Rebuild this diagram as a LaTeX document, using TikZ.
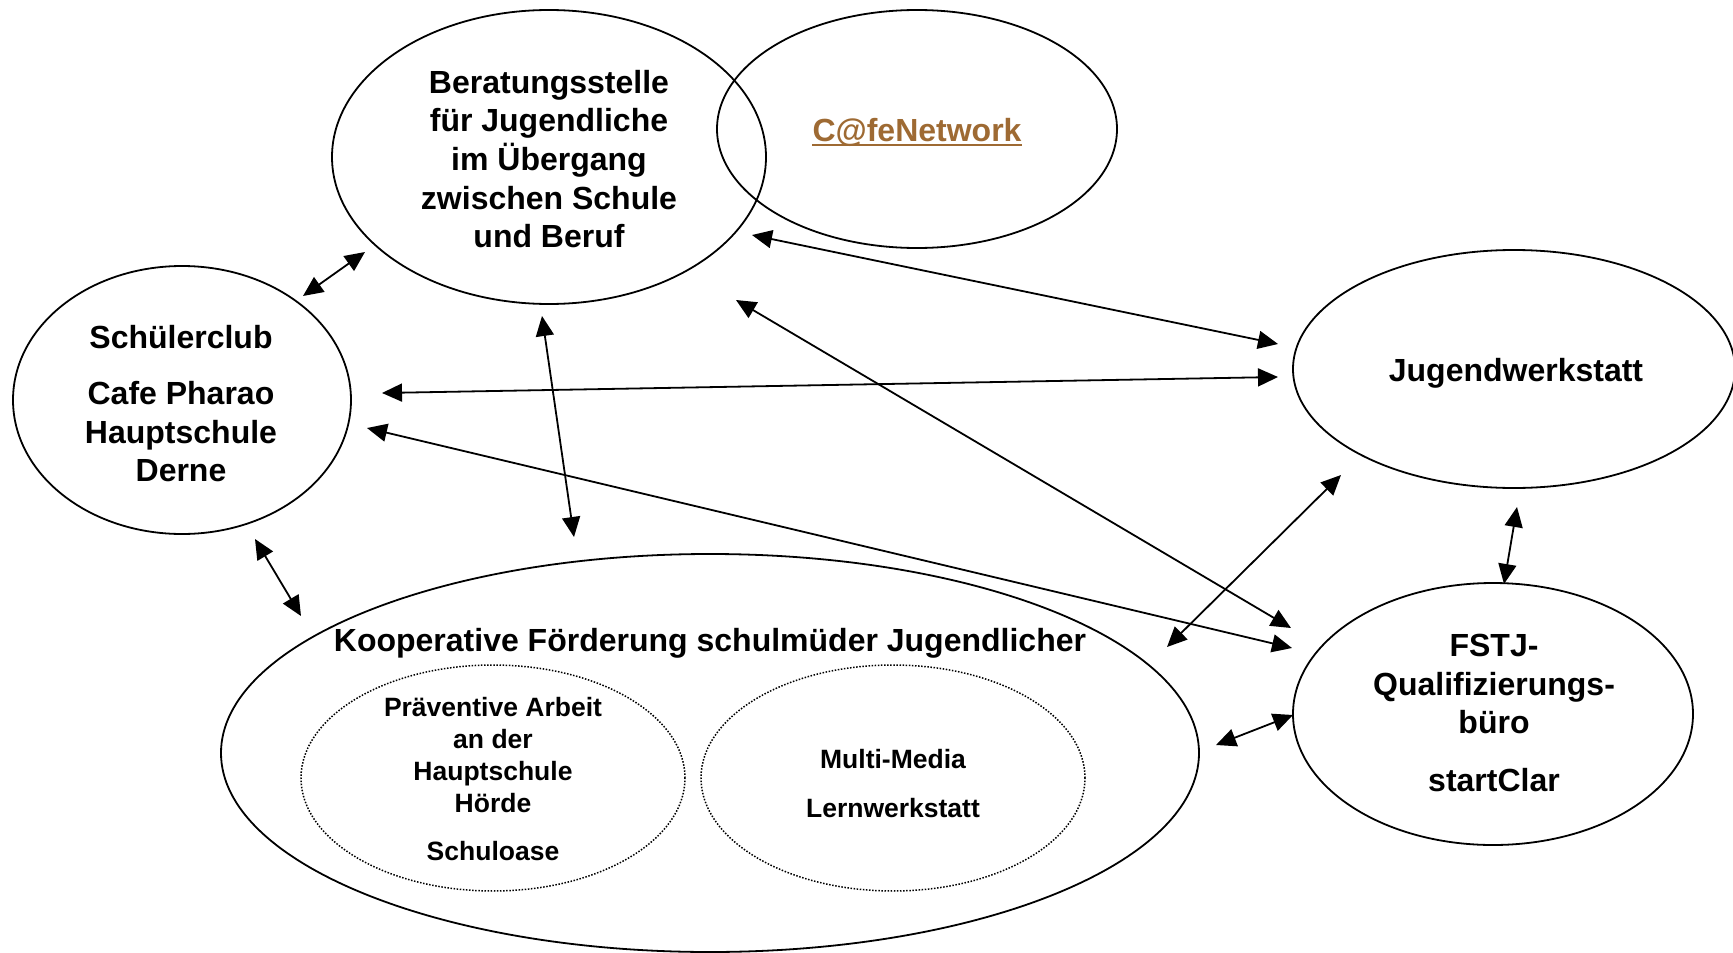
\documentclass[tikz,border=0pt]{standalone}
\usepackage{fontspec}
\setmainfont{Liberation Sans}
\usetikzlibrary{arrows.meta,shapes.geometric}
\definecolor{cafebrown}{RGB}{158,106,51}
\tikzset{
  blob/.style={draw, ellipse, line width=1.8pt, inner sep=0pt},
  dotblob/.style={draw, ellipse, line width=1.5pt, dash pattern=on 1.5pt off 1.6pt, inner sep=0pt},
  lbl/.style={font=\bfseries\fontsize{32}{38.7}\selectfont, align=center, inner sep=0pt},
  smalllbl/.style={font=\bfseries\fontsize{26.5}{32}\selectfont, align=center, inner sep=0pt},
  link/.style={{Triangle[length=20pt,width=18pt]}-{Triangle[length=20pt,width=18pt]}, line width=1.8pt},
}
\begin{document}
\begin{tikzpicture}[x=1pt,y=-1pt]
\useasboundingbox (0,0) rectangle (1733,953);
\clip (0,0) rectangle (1733,953);
% ellipses
\node[blob, minimum width=434pt, minimum height=294pt] (ber) at (549,157) {};
\node[blob, minimum width=400pt, minimum height=238pt] (cafe) at (917,129) {};
\node[blob, minimum width=338pt, minimum height=268pt] (sch) at (182,400) {};
\node[blob, minimum width=442pt, minimum height=238pt] (jug) at (1514,369) {};
\node[blob, minimum width=400pt, minimum height=262pt] (fstj) at (1493,714) {};
\node[blob, minimum width=978pt, minimum height=398pt] (koop) at (710,753) {};
\node[dotblob, minimum width=384pt, minimum height=226pt] (prae) at (493,778) {};
\node[dotblob, minimum width=384pt, minimum height=226pt] (mm) at (893,778) {};
% texts
\node[lbl] (bertxt) at (549,159) {Beratungsstelle\\für Jugendliche\\im Übergang\\zwischen Schule\\und Beruf};
\node[lbl, text=cafebrown] (cafetxt) at (917,132) {C@feNetwork};
\draw[cafebrown, line width=2.6pt] ([yshift=-4pt]cafetxt.base west) -- ([yshift=-4pt]cafetxt.base east);
\node[lbl] (schtxt) at (181,404) {Schülerclub\\[17pt]Cafe Pharao\\Hauptschule\\Derne};
\node[lbl] (jugtxt) at (1516,373) {Jugendwerkstatt};
\node[lbl] (fstjtxt) at (1494,713) {FSTJ-\\Qualifizierungs-\\büro\\[19pt]startClar};
\node[lbl] (kooptxt) at (710,643) {Kooperative Förderung schulmüder Jugendlicher};
\node[smalllbl] (praetxt) at (493,779) {Präventive Arbeit\\an der\\Hauptschule\\Hörde\\[16pt]Schuloase};
\node[smalllbl] (mmtxt) at (893,784) {Multi-Media\\[17pt]Lernwerkstatt};
% connector end points
\coordinate (s1) at (303,296); \coordinate (b1) at (365,252);
\coordinate (b2) at (752,235); \coordinate (j2) at (1278,344);
\coordinate (s3) at (382,393); \coordinate (j3) at (1278,377);
\coordinate (b4) at (542,316); \coordinate (k4) at (574,537);
\coordinate (b5) at (736,300); \coordinate (f5) at (1291,628);
\coordinate (s6) at (367,428); \coordinate (f6) at (1292,648);
\coordinate (s7) at (255,539); \coordinate (k7) at (301,616);
\coordinate (j8) at (1341,475); \coordinate (k8) at (1167,647);
\coordinate (j9) at (1517,507); \coordinate (f9) at (1504,584);
\coordinate (k10) at (1216,745); \coordinate (f10) at (1293,715);
% connectors
\draw[link] (s1) -- (b1);
\draw[link] (b2) -- (j2);
\draw[link] (s3) -- (j3);
\draw[link] (b4) -- (k4);
\draw[link] (b5) -- (f5);
\draw[link] (s6) -- (f6);
\draw[link] (s7) -- (k7);
\draw[link] (j8) -- (k8);
\draw[link] (j9) -- (f9);
\draw[link] (k10) -- (f10);
\end{tikzpicture}
\end{document}
